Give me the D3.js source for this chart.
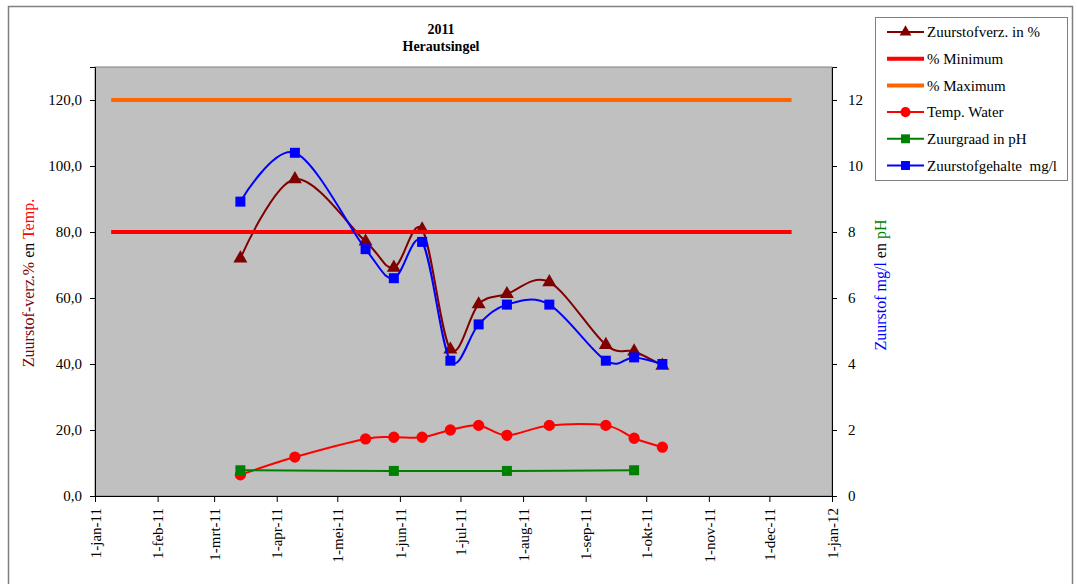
<!DOCTYPE html>
<html>
<head>
<meta charset="utf-8">
<script src="https://cdn.jsdelivr.net/npm/d3@7"></script>
<style>
  html, body { margin: 0; padding: 0; background: #fff; }
  svg { display: block; font-family: "Liberation Serif", "Times New Roman", serif; }
  text { white-space: pre; }
</style>
</head>
<body>
<svg id="chart" width="1077" height="584"></svg>
<script>
// Measurement dates (2011)
const sampleDates = ["2011-03-14","2011-04-10","2011-05-15","2011-05-29","2011-06-12","2011-06-26",
                     "2011-07-10","2011-07-24","2011-08-14","2011-09-11","2011-09-25","2011-10-09"];
// Oxygen saturation in %
const oxygenPct   = [72.0, 96.0, 77.1, 69.2, 80.8, 44.4, 58.1, 61.2, 64.8, 45.8, 43.8, 39.5];
// Water temperature in °C
const waterTemp   = [6.4, 11.8, 17.3, 17.8, 17.8, 20.0, 21.4, 18.4, 21.4, 21.4, 17.5, 14.8];
// Dissolved oxygen in mg/l (secondary axis)
const oxygenMgL   = [8.92, 10.4, 7.48, 6.6, 7.7, 4.1, 5.2, 5.8, 5.8, 4.1, 4.2, 4.0];
// Acidity (pH), measured on fewer dates
const phDates     = ["2011-03-14","2011-05-29","2011-07-24","2011-09-25"];
const phValues    = [7.8, 7.6, 7.6, 7.8];
// Reference levels for oxygen saturation
const limitDates  = ["2011-01-09","2011-12-12"];
const pctMinimum  = [80, 80];
const pctMaximum  = [120, 120];
// Axis ticks
const monthTicks  = ["2011-01-01","2011-02-01","2011-03-01","2011-04-01","2011-05-01","2011-06-01",
                     "2011-07-01","2011-08-01","2011-09-01","2011-10-01","2011-11-01","2011-12-01","2012-01-01"];
const monthNames  = ["jan","feb","mrt","apr","mei","jun","jul","aug","sep","okt","nov","dec"];
const leftTicks   = [0, 20, 40, 60, 80, 100, 120];
const rightTicks  = [0, 2, 4, 6, 8, 10, 12];

const parse = d3.timeParse("%Y-%m-%d");
const svg = d3.select("#chart");

const plot = { left: 95, right: 832, top: 67, bottom: 496 };

const x = d3.scaleTime()
  .domain([parse("2011-01-01"), parse("2012-01-01")])
  .range([plot.left, plot.right]);
const yL = d3.scaleLinear().domain([0, 130]).range([plot.bottom, plot.top]);
const yR = d3.scaleLinear().domain([0, 13]).range([plot.bottom, plot.top]);

// Outer chart frame (open at the bottom edge)
svg.append("path")
  .attr("d", "M8.5,584 V6.5 H1072.5 V584")
  .attr("fill", "none").attr("stroke", "#808080").attr("stroke-width", 1.5);

// Title
const title = svg.append("text").attr("x", 441).attr("text-anchor", "middle")
  .attr("font-weight", "bold").attr("font-size", 14).attr("fill", "#000");
title.append("tspan").attr("x", 441).attr("y", 34).text("2011");
title.append("tspan").attr("x", 441).attr("y", 51).text("Herautsingel");

// Plot area
svg.append("rect")
  .attr("x", plot.left).attr("y", plot.top)
  .attr("width", plot.right - plot.left).attr("height", plot.bottom - plot.top)
  .attr("fill", "#C0C0C0").attr("stroke", "#808080").attr("stroke-width", 1);

// Left axis
const fmtL = v => d3.format(".1f")(v).replace(".", ",");
const axL = svg.append("g").attr("transform", `translate(${plot.left},0)`)
  .call(d3.axisLeft(yL).tickValues(leftTicks).tickFormat(fmtL).tickSize(5).tickPadding(8));
// Right axis
const axR = svg.append("g").attr("transform", `translate(${plot.right},0)`)
  .call(d3.axisRight(yR).tickValues(rightTicks).tickFormat(d3.format("d")).tickSize(5).tickPadding(11));
// Bottom axis
const axB = svg.append("g").attr("transform", `translate(0,${plot.bottom})`)
  .call(d3.axisBottom(x).tickValues(monthTicks.map(parse))
    .tickFormat(d => "1-" + monthNames[d.getMonth()] + "-" + d3.timeFormat("%y")(d)).tickSize(6));
axB.selectAll("text")
  .attr("transform", "rotate(-90)")
  .attr("text-anchor", "end")
  .attr("x", -12).attr("y", 0).attr("dy", "0.35em");

[axL, axR, axB].forEach(g => {
  g.attr("font-family", null).attr("font-size", null);
  g.selectAll("text").attr("font-size", 15).attr("fill", "#000");
  g.selectAll("line").attr("stroke", "#000");
  g.select(".domain").attr("stroke", "#000");
});

// Axis titles
const titleL = svg.append("text").attr("transform", "translate(34,283) rotate(-90)")
  .attr("text-anchor", "middle").attr("font-size", 16);
titleL.append("tspan").attr("fill", "#800000").text("Zuurstof-verz.%");
titleL.append("tspan").attr("fill", "#000").text(" en ");
titleL.append("tspan").attr("fill", "#FF0000").text("Temp.");

const titleR = svg.append("text").attr("transform", "translate(886,285) rotate(-90)")
  .attr("text-anchor", "middle").attr("font-size", 16);
titleR.append("tspan").attr("fill", "#0000FF").text("Zuurstof mg/l");
titleR.append("tspan").attr("fill", "#000").text(" en ");
titleR.append("tspan").attr("fill", "#008000").text("pH");

// Series
const smooth = d3.curveCardinal.tension(0);

function drawLine(dates, values, yScale, color, width, curve) {
  const pts = dates.map((d, i) => [x(parse(d)), yScale(values[i])]);
  svg.append("path").datum(pts)
    .attr("d", d3.line().curve(curve)(pts))
    .attr("fill", "none").attr("stroke", color).attr("stroke-width", width)
    .attr("stroke-linejoin", "round");
  return pts;
}
function drawMarkers(pts, shape, color, size) {
  svg.append("g").selectAll("path").data(pts).join("path")
    .attr("transform", d => `translate(${d[0]},${d[1]})`)
    .attr("d", d3.symbol().type(shape).size(size)())
    .attr("fill", color);
}

const ptsPct = drawLine(sampleDates, oxygenPct, yL, "#800000", 2, smooth);
drawMarkers(ptsPct, d3.symbolTriangle, "#800000", 85);

drawLine(limitDates, pctMinimum, yL, "#FF0000", 4, d3.curveLinear);
drawLine(limitDates, pctMaximum, yL, "#FF6600", 4, d3.curveLinear);

const ptsTemp = drawLine(sampleDates, waterTemp, yL, "#FF0000", 2, smooth);
drawMarkers(ptsTemp, d3.symbolCircle, "#FF0000", 100);

const ptsPh = drawLine(phDates, phValues, yL, "#008000", 2, smooth);
drawMarkers(ptsPh, d3.symbolSquare, "#008000", 100);

const ptsMg = drawLine(sampleDates, oxygenMgL, yR, "#0000FF", 2, smooth);
drawMarkers(ptsMg, d3.symbolSquare, "#0000FF", 100);

// Legend
const legendItems = [
  { label: "Zuurstofverz. in %",     color: "#800000", width: 2, shape: d3.symbolTriangle, size: 60 },
  { label: "% Minimum",              color: "#FF0000", width: 4, shape: null },
  { label: "% Maximum",              color: "#FF6600", width: 4, shape: null },
  { label: "Temp. Water",            color: "#FF0000", width: 2, shape: d3.symbolCircle, size: 80 },
  { label: "Zuurgraad in pH",        color: "#008000", width: 2, shape: d3.symbolSquare, size: 80 },
  { label: "Zuurstofgehalte  mg/l",  color: "#0000FF", width: 2, shape: d3.symbolSquare, size: 80 }
];
const legend = svg.append("g");
legend.append("rect").attr("x", 875.5).attr("y", 17.5).attr("width", 192).attr("height", 163)
  .attr("fill", "#fff").attr("stroke", "#808080").attr("stroke-width", 1);
const rows = legend.selectAll("g.row").data(legendItems).join("g")
  .attr("transform", (d, i) => `translate(0,${32 + i * 26.7})`);
rows.append("line").attr("x1", 887).attr("x2", 924).attr("y1", 0).attr("y2", 0)
  .attr("stroke", d => d.color).attr("stroke-width", d => d.width);
rows.filter(d => d.shape).append("path")
  .attr("transform", "translate(905.5,0)")
  .attr("d", d => d3.symbol().type(d.shape).size(d.size)())
  .attr("fill", d => d.color);
rows.append("text").attr("x", 927).attr("y", 0).attr("dy", "0.35em")
  .attr("font-size", 15).attr("fill", "#000").text(d => d.label);
</script>
</body>
</html>
